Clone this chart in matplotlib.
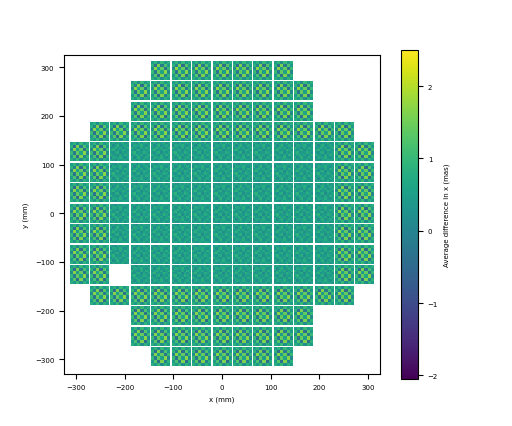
import numpy as np
import matplotlib
matplotlib.use("Agg")
import matplotlib.pyplot as plt

# chips per row (top to bottom) and row centres (mm)
row_counts = [7, 9, 9, 13, 15, 15, 15, 15, 15, 15, 15, 13, 9, 9, 7]
row_y = [294, 252, 210, 168, 126, 84, 42, 0, -42, -84, -126, -168, -210, -252, -294]
missing = [(10, 2)]
# residual pattern seen on outer chips (values in mas)
tex = np.array([
    [0.5, 0.9, 0.2, 1.0, 0.4, 0.8],
    [0.9, -0.4, 1.6, -0.2, 1.2, 0.4],
    [0.2, 1.7, 0.5, 1.4, -0.3, 1.0],
    [1.0, -0.2, 1.4, 0.6, 1.7, 0.1],
    [0.4, 1.3, -0.4, 1.6, 0.0, 0.9],
    [0.8, 0.4, 1.0, 0.2, 0.9, 0.5],
])
fine = np.array([
    [0.4, 0.7, 0.3, 0.6, 0.5, 0.8, 0.3, 0.6],
    [0.7, 0.2, 0.6, 0.9, 0.3, 0.5, 0.7, 0.4],
    [0.3, 0.6, 0.8, 0.4, 0.7, 0.2, 0.5, 0.8],
    [0.6, 0.9, 0.3, 0.5, 0.4, 0.8, 0.6, 0.3],
    [0.5, 0.3, 0.7, 0.8, 0.2, 0.6, 0.4, 0.7],
    [0.8, 0.5, 0.4, 0.2, 0.7, 0.3, 0.8, 0.5],
    [0.2, 0.7, 0.6, 0.5, 0.8, 0.4, 0.3, 0.6],
    [0.6, 0.4, 0.2, 0.7, 0.5, 0.7, 0.6, 0.4],
])

fig = plt.figure(figsize=(5.12, 4.27), dpi=100)
ax = fig.add_axes([64/512, 1-375/427, 316/512, 319/427])
cax = fig.add_axes([401/512, 1-380/427, 17/512, 329/427])
w = 39; pitch = 42
im = None
for r, (n, yc) in enumerate(zip(row_counts, row_y)):
    for c in range(n):
        if (r, c) in missing:
            continue
        xc = (c - (n - 1) / 2) * pitch
        outer = r < 4 or r > 10 or abs(xc) > 230
        if outer:
            img = tex if (r + c) % 2 == 0 else tex[::-1, ::-1]
        else:
            img = fine if (r + c) % 2 == 0 else fine[::-1]
        im = ax.imshow(img, extent=[xc - w/2, xc + w/2, yc - w/2, yc + w/2],
                       cmap="viridis", vmin=-2.05, vmax=2.5, interpolation="nearest")
ax.set_xlim(-325, 325)
ax.set_ylim(-330, 325)
ax.set_aspect("auto")
ax.set_xticks([-300, -200, -100, 0, 100, 200, 300])
ax.set_yticks([-300, -200, -100, 0, 100, 200, 300])
ax.tick_params(labelsize=5)
ax.set_xlabel("x (mm)", fontsize=5)
ax.set_ylabel("y (mm)", fontsize=5)
cb = fig.colorbar(im, cax=cax)
cb.set_ticks([-2, -1, 0, 1, 2])
cb.ax.tick_params(labelsize=5)
cb.set_label("Average difference in x (mas)", fontsize=5)
fig.savefig("out.png", dpi=100)
